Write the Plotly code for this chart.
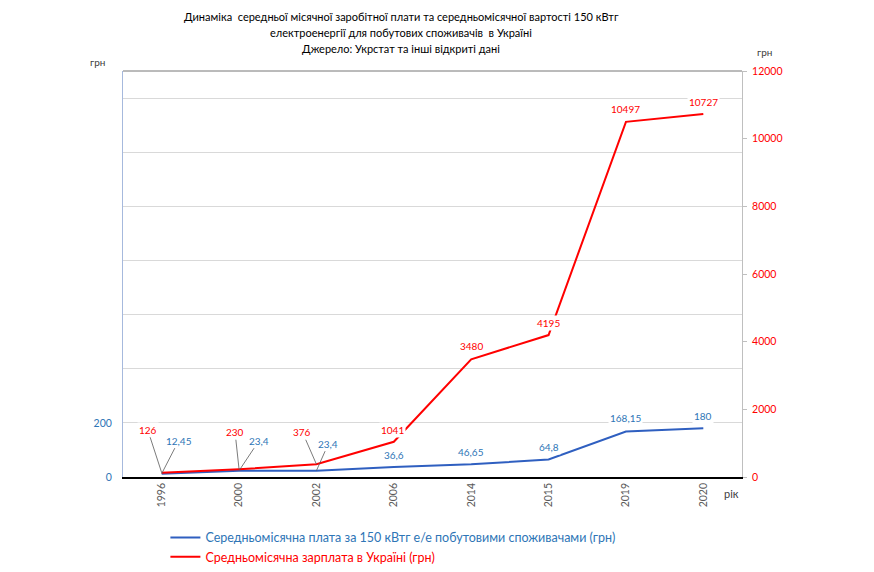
import plotly.graph_objects as go

# ---- data ----
years = ["1996", "2000", "2002", "2006", "2014", "2015", "2019", "2020"]
electricity_cost = [12.45, 23.4, 23.4, 36.6, 46.65, 64.8, 168.15, 180]
avg_salary = [126, 230, 376, 1041, 3480, 4195, 10497, 10727]
left_tick_vals = [0, 200, 400, 600, 800, 1000, 1200, 1400]
left_tick_text = ["0", "200", "", "", "", "", "", ""]
right_tick_vals = [0, 2000, 4000, 6000, 8000, 10000, 12000]

name_blue = "Середньомісячна плата за 150 кВтг е/е побутовими споживачами (грн)"
name_red = "Средньомісячна зарплата в Україні (грн)"
title_lines = ["Динаміка  середньої місячної заробітної плати та середньомісячної вартості 150 кВтг",
               "електроенергії для побутових споживачів  в Україні",
               "Джерело: Укрстат та інші відкриті дані"]

BLUE_LINE = "#2F5FC0"
BLUE_TXT = "#2E75B6"
RED = "#FF0000"
FONT = "Lato"


def fmt(v):
    return f"{v:g}".replace(".", ",")


fig = go.Figure()
fig.add_trace(go.Scatter(
    x=years, y=electricity_cost, mode="lines", yaxis="y",
    name=f"<span style='color:{BLUE_TXT}'>{name_blue}</span>",
    line=dict(color=BLUE_LINE, width=2)))
fig.add_trace(go.Scatter(
    x=years, y=avg_salary, mode="lines", yaxis="y2",
    name=f"<span style='color:{RED}'>{name_red}</span>",
    line=dict(color=RED, width=2)))

# label placement styles: (dx, dy, arrow) in pixels relative to point
red_style = [(-14, -43, True), (-4, -37, True), (-14, -32, True), (-1, -12, False),
             (0, -13, False), (0, -12, False), (0, -13, False), (0, -12, False)]
blue_style = [(17, -33, True), (20, -30, True), (12, -27, True), (0, -12, False),
              (0, -12, False), (0, -12, False), (0, -13, False), (0, -12, False)]

annotations = []
for series, yref, color, styles in [(electricity_cost, "y", BLUE_TXT, blue_style),
                                    (avg_salary, "y2", RED, red_style)]:
    for i, (yv, (dx, dy, arrow)) in enumerate(zip(series, styles)):
        a = dict(x=i, y=yv, xref="x", yref=yref, text=fmt(yv),
                 font=dict(family=FONT, size=10, color=color),
                 bgcolor="white", borderpad=1)
        if arrow:
            a.update(showarrow=True, ax=dx, ay=dy,
                     arrowhead=0, arrowwidth=0.8, arrowcolor="#595959", standoff=0)
        else:
            a.update(showarrow=False, xshift=dx, yshift=-dy)
        annotations.append(a)

# title lines (pixel rows converted to paper coords: plot top=71, bottom=477)
for line_txt, py in zip(title_lines, [16, 32.5, 49]):
    annotations.append(dict(text=line_txt, xref="paper", yref="paper",
                            x=(401 - 123) / 619, y=(477 - py) / 406,
                            xanchor="center", yanchor="middle", showarrow=False,
                            font=dict(family=FONT, size=11, color="black")))

annotations += [
    dict(text="грн", xref="paper", yref="paper", x=(97 - 123) / 619, y=(477 - 62) / 406,
         xanchor="center", yanchor="middle",
         showarrow=False, font=dict(family=FONT, size=10, color="#404040")),
    dict(text="грн", xref="paper", yref="paper", x=(764 - 123) / 619, y=(477 - 52) / 406,
         xanchor="center", yanchor="middle",
         showarrow=False, font=dict(family=FONT, size=10, color="#404040")),
    dict(text="рік", xref="paper", yref="paper", x=(731 - 123) / 619, y=(477 - 493) / 406,
         xanchor="center", yanchor="middle",
         showarrow=False, font=dict(family=FONT, size=11, color="#404040")),
]

fig.update_layout(
    width=874, height=572,
    margin=dict(l=123, r=132, t=71, b=95, autoexpand=False),
    paper_bgcolor="white", plot_bgcolor="white",
    font=dict(family=FONT, color="#595959"),
    showlegend=True,
    legend=dict(x=0.0685, y=-0.113, xanchor="left", yanchor="top",
                font=dict(family=FONT, size=12.5), bgcolor="rgba(0,0,0,0)",
                tracegroupgap=0, itemwidth=30),
    xaxis=dict(type="category", range=[-0.5, 7.5], tickangle=-90, automargin=False,
               showline=True, linecolor="black", linewidth=1.5,
               showgrid=False, ticks="",
               tickfont=dict(family=FONT, size=10.5, color="#595959")),
    yaxis=dict(range=[0, 1500], tickvals=left_tick_vals, ticktext=left_tick_text,
               automargin=False, ticklabelstandoff=8,
               showgrid=True, gridcolor="#D9D9D9", gridwidth=1,
               showline=True, linecolor="#A6B9DD", linewidth=1,
               zeroline=False, ticks="",
               tickfont=dict(family=FONT, size=10.5, color=BLUE_TXT)),
    yaxis2=dict(range=[0, 12000], tickvals=right_tick_vals, tickformat="d",
                overlaying="y", side="right", automargin=False,
                showgrid=False, zeroline=False, ticklabelstandoff=3,
                showline=True, linecolor="#BFBFBF", linewidth=1,
                ticks="outside", ticklen=4, tickcolor="#BFBFBF",
                tickfont=dict(family=FONT, size=10.5, color=RED)),
    annotations=annotations,
    shapes=[dict(type="line", xref="paper", yref="paper", x0=0, x1=1, y0=1, y1=1,
                 line=dict(color="#767676", width=1))],
)

fig.write_html("out.html")
